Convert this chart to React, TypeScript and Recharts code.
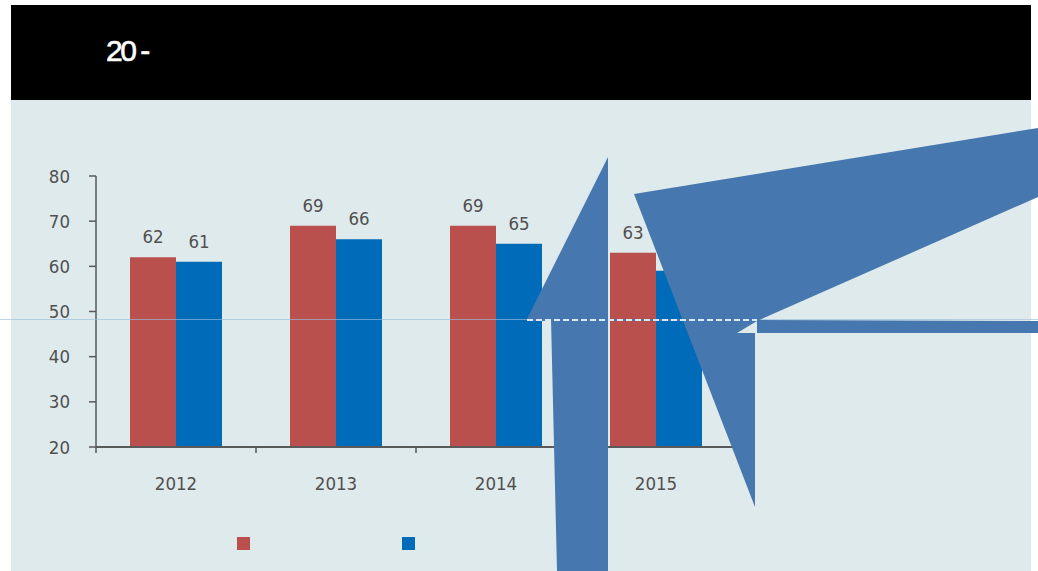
import { BarChart, Bar, XAxis, YAxis, LabelList } from "recharts";

// yearly values, two series
const years = ["2012", "2013", "2014", "2015"];
const firstSeries = [62, 69, 69, 63];
const secondSeries = [61, 66, 65, 59];
const yTicks = [20, 30, 40, 50, 60, 70, 80];

const RED = "#b9504d";
const BLUE = "#006cb9";
const ARROW = "#4677ae";
const PANEL = "#dfeaec";
const INK = "#595959";
const TEXT = "#505050";
const NARROW =
  '"Liberation Sans Narrow", "DejaVu Sans Condensed", "Arial Narrow", sans-serif';

const W = 1038;
const H = 571;

const data = years.map((year, i) => ({
  year,
  first: firstSeries[i],
  second: secondSeries[i],
}));

const legendItems = [
  { color: RED, left: 237 },
  { color: BLUE, left: 402 },
];

// year label with tick marks at the band edges
function YearTick(props: any) {
  const { x, y, payload, index, visibleTicksCount, width } = props;
  const half = width / visibleTicksCount / 2;
  const top = y - 30;
  return (
    <g>
      <line x1={x - half} x2={x - half} y1={top} y2={top + 6} stroke={INK} strokeWidth={1.5} />
      {index === visibleTicksCount - 1 && (
        <line x1={x + half} x2={x + half} y1={top} y2={top + 6} stroke={INK} strokeWidth={1.5} />
      )}
      <text
        x={x}
        y={y}
        dy="0.72em"
        textAnchor="middle"
        fill={TEXT}
        fontSize={18.5}
        fontFamily={NARROW}
      >
        {payload.value}
      </text>
    </g>
  );
}

export default function App() {
  return (
    <div style={{ position: "absolute", left: 0, top: 0, width: W, height: H, overflow: "hidden", background: "#fff" }}>
      {/* header bar */}
      <div style={{ position: "absolute", left: 11, top: 5, width: 1020, height: 95, background: "#000" }} />
      <div
        style={{
          position: "absolute",
          left: 106,
          top: 36,
          color: "#fff",
          fontFamily: '"Liberation Sans", Arial, sans-serif',
          fontSize: 30,
          lineHeight: "30px",
          letterSpacing: -2.5,
          whiteSpace: "pre",
          WebkitTextStroke: "0.6px #fff",
        }}
      >
        20 -
      </div>

      {/* chart panel */}
      <div style={{ position: "absolute", left: 11, top: 100, width: 1020, height: 471, background: PANEL }} />

      <div style={{ position: "absolute", left: 0, top: 0 }}>
        <BarChart
          width={W}
          height={H}
          data={data}
          margin={{ top: 176, right: 302, bottom: 0, left: 0 }}
          barSize={46}
          barGap={0}
        >
          <XAxis
            dataKey="year"
            height={124}
            axisLine={{ stroke: INK, strokeWidth: 2 }}
            tickLine={false}
            tickSize={6}
            tickMargin={24}
            tick={<YearTick />}
            interval={0}
          />
          <YAxis
            width={96}
            domain={[20, 80]}
            ticks={yTicks}
            interval={0}
            allowDataOverflow
            axisLine={{ stroke: INK, strokeWidth: 1.5 }}
            tickLine={{ stroke: INK, strokeWidth: 1.5 }}
            tickSize={7}
            tickMargin={19}
            tick={{ fill: TEXT, fontSize: 18.5, fontFamily: NARROW }}
          />
          <Bar dataKey="first" fill={RED} isAnimationActive={false}>
            <LabelList dataKey="first" position="top" offset={14} fill={TEXT} fontSize={18.5} fontFamily={NARROW} />
          </Bar>
          <Bar dataKey="second" fill={BLUE} isAnimationActive={false}>
            <LabelList dataKey="second" position="top" offset={14} fill={TEXT} fontSize={18.5} fontFamily={NARROW} />
          </Bar>
        </BarChart>
      </div>

      {/* legend swatches */}
      {legendItems.map((item) => (
        <div
          key={item.left}
          style={{ position: "absolute", left: item.left, top: 537, width: 13, height: 13, background: item.color }}
        />
      ))}

      {/* arrow callout drawn over the plot */}
      <svg width={W} height={H} style={{ position: "absolute", left: 0, top: 0, pointerEvents: "none" }}>
        <line x1={0} x2={W} y1={319.5} y2={319.5} stroke="rgba(150,190,222,0.65)" strokeWidth={1} />
        <polygon points="608,157 527,319 551,319 557,571 608,571" fill={ARROW} />
        <polygon points="634,194 1038,128 1038,197 757,321 737,333 755,333 755,507" fill={ARROW} />
        <polygon points="757,320 1038,321 1038,333 757,333" fill={ARROW} />
        <line x1={953} x2={1031} y1={319.5} y2={319.5} stroke="#b9cfdf" strokeWidth={1} />
        <line x1={527} x2={757} y1={320} y2={320} stroke={ARROW} strokeWidth={2} />
        <line x1={527} x2={757} y1={320} y2={320} stroke="#dde8ee" strokeWidth={2} strokeDasharray="6 3" />
      </svg>
    </div>
  );
}
